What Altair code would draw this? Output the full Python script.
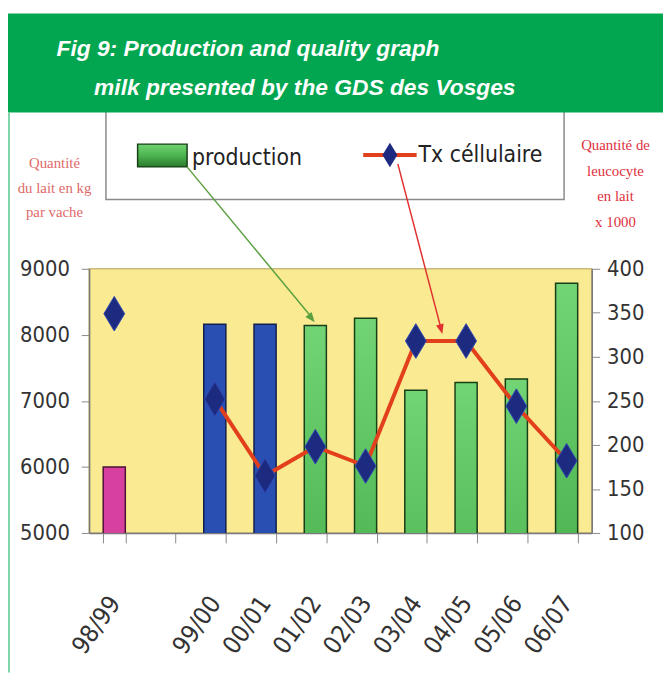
import altair as alt
import pandas as pd

# ---- data ----
saisons = ["98/99", "99/00", "00/01", "01/02", "02/03", "03/04", "04/05", "05/06", "06/07"]
slots = ["98/99", " ", "99/00", "00/01", "01/02", "02/03", "03/04", "04/05", "05/06", "06/07"]
production = [6000, 8160, 8160, 8140, 8250, 7160, 7280, 7330, 8780]
tx_cellulaire = [349, 252, 165, 198, 176, 318, 318, 244, 182]
groupe = ["a", "b", "b", "c", "c", "c", "c", "c", "c"]
relie = [False, True, True, True, True, True, True, True, True]

titre1 = "Fig 9: Production and quality graph"
titre2 = "milk presented by the GDS des Vosges"
label_gauche = ["Quantité", "du lait en kg", "par vache"]
label_droite = ["Quantité de", "leucocyte", "en lait", "x 1000"]
leg_prod = "production"
leg_tx = "Tx céllulaire"

df = pd.DataFrame({"saison": saisons, "production": production, "tx": tx_cellulaire,
                   "groupe": groupe, "relie": relie})
one = pd.DataFrame({"k": [0]})

NARROW = "Liberation Sans Narrow, Arial Narrow, DejaVu Sans Condensed, sans-serif"
FS = 22
W, H = 508, 267

xenc = alt.X("saison:N", scale=alt.Scale(domain=slots, paddingInner=0.56, paddingOuter=0.28),
             axis=alt.Axis(title=None, labelAngle=-55, labelPadding=56, tickBand="extent",
                           tickSize=10, labelFontSize=25, labelFont=NARROW))
yleft = alt.Y("production:Q", scale=alt.Scale(domain=[5000, 9000], zero=False),
              axis=alt.Axis(title=None, values=[5000, 6000, 7000, 8000, 9000], format="d",
                            tickSize=8, labelPadding=12, orient="left"))
yright = alt.Y("tx:Q", scale=alt.Scale(domain=[100, 400], zero=False),
               axis=alt.Axis(title=None, values=[100, 150, 200, 250, 300, 350, 400], format="d",
                             tickSize=8, labelPadding=7, orient="right"))

green_grad = alt.Gradient(gradient="linear",
                          stops=[alt.GradientStop(color="#72d474", offset=0),
                                 alt.GradientStop(color="#4cb350", offset=0.5),
                                 alt.GradientStop(color="#2a7a2e", offset=1)],
                          x1=0, x2=0, y1=0, y2=1)

base = alt.Chart(df)
bars_m = base.transform_filter("datum.groupe == 'a'").mark_bar(
    color="#d6409e", stroke="#4a1036", strokeWidth=1.5, clip=True).encode(x=xenc, y=yleft)
bars_b = base.transform_filter("datum.groupe == 'b'").mark_bar(
    color="#2a4fb2", stroke="#10204e", strokeWidth=1.5, clip=True).encode(x=xenc, y=yleft)
bars_g = base.transform_filter("datum.groupe == 'c'").mark_bar(
    color=green_grad, stroke="#173f17", strokeWidth=1.5, clip=True).encode(x=xenc, y=yleft)
bars = alt.layer(bars_m, bars_b, bars_g)

DIAMOND = "M0,-1L0.6,0L0,1L-0.6,0Z"
line = base.transform_filter("datum.relie").mark_line(
    color="#e2401c", strokeWidth=4).encode(x=xenc, y=yright)
pts = base.mark_point(shape=DIAMOND, filled=True, size=1225, color="#1c2a80",
                      stroke="#3048b0", strokeWidth=1, opacity=1).encode(x=xenc, y=yright)
tx_layer = alt.layer(line, pts)

# ---- decorations (pixel positions relative to the plot area) ----
deco = alt.Chart(one)
legend_box = deco.mark_rect(fill="white", stroke="#8a8a8a", strokeWidth=1.5).encode(
    x=alt.value(17), x2=alt.value(480), y=alt.value(-175), y2=alt.value(-70))
band = deco.mark_rect(fill="#02a650").encode(
    x=alt.value(-82), x2=alt.value(580), y=alt.value(-258), y2=alt.value(-158))
border = deco.mark_rule(color="#7fd6aa", strokeWidth=2).encode(
    x=alt.value(-81), y=alt.value(-158), y2=alt.value(408))
t1 = deco.mark_text(align="left", baseline="alphabetic", font="Liberation Sans", fontSize=23,
                    fontWeight="bold", fontStyle="italic", color="white").encode(
    x=alt.value(-33), y=alt.value(-215), text=alt.value(titre1))
t2 = deco.mark_text(align="left", baseline="alphabetic", font="Liberation Sans", fontSize=23,
                    fontWeight="bold", fontStyle="italic", color="white").encode(
    x=alt.value(5), y=alt.value(-176), text=alt.value(titre2))
sw = deco.mark_rect(fill=green_grad, stroke="#173f17", strokeWidth=1.5).encode(
    x=alt.value(49), x2=alt.value(99), y=alt.value(-126), y2=alt.value(-103))
lp = deco.mark_text(align="left", baseline="middle", font=NARROW, fontSize=FS + 1,
                    color="#222").encode(x=alt.value(104), y=alt.value(-112), text=alt.value(leg_prod))
ll = deco.mark_rule(color="#e2401c", strokeWidth=4).encode(
    x=alt.value(277), x2=alt.value(331), y=alt.value(-115))
ld = deco.mark_point(shape=DIAMOND, filled=True, size=625, color="#1c2a80", opacity=1).encode(
    x=alt.value(304), y=alt.value(-115))
lt = deco.mark_text(align="left", baseline="middle", font=NARROW, fontSize=FS + 1,
                    color="#222").encode(x=alt.value(333), y=alt.value(-115), text=alt.value(leg_tx))
lg = deco.mark_text(align="center", baseline="middle", font="Liberation Serif", fontSize=15,
                    color="#e06a6a", lineHeight=25).encode(
    x=alt.value(-35), y=alt.value(-107), text=alt.value(label_gauche))
ldr = deco.mark_text(align="center", baseline="middle", font="Liberation Serif", fontSize=15,
                     color="#e0303c", lineHeight=26).encode(
    x=alt.value(532), y=alt.value(-125), text=alt.value(label_droite))
ga = deco.mark_rule(color="#5aa040", strokeWidth=1.5).encode(
    x=alt.value(99), y=alt.value(-103), x2=alt.value(224), y2=alt.value(48))
gh = deco.mark_point(shape="M0,0L-0.8,-2L0.8,-2Z", filled=True, size=100, color="#5aa040",
                     angle=321, opacity=1).encode(x=alt.value(228), y=alt.value(54))
ra = deco.mark_rule(color="#e03030", strokeWidth=1.5).encode(
    x=alt.value(312), y=alt.value(-106), x2=alt.value(355), y2=alt.value(58))
rh = deco.mark_point(shape="M0,0L-0.8,-2L0.8,-2Z", filled=True, size=100, color="#e03030",
                     angle=345, opacity=1).encode(x=alt.value(357), y=alt.value(66))

chart = alt.layer(
    bars, tx_layer, legend_box, band, border, t1, t2, sw, lp, ll, ld, lt, lg, ldr, ga, gh, ra, rh
).resolve_scale(y="independent").properties(
    width=W, height=H, padding={"left": 0, "top": 2, "right": 0, "bottom": 0}
).configure(background="white").configure_view(
    fill="#faea92", stroke="#c9b97a", strokeWidth=1.5
).configure_axis(
    labelFont=NARROW, labelFontSize=FS, labelColor="#333333", domainColor="#7a7a7a",
    domainWidth=1.5, tickColor="#8a8a8a", tickWidth=1, grid=False
)

chart.save("out.html", embed_options={"renderer": "svg", "actions": False})
